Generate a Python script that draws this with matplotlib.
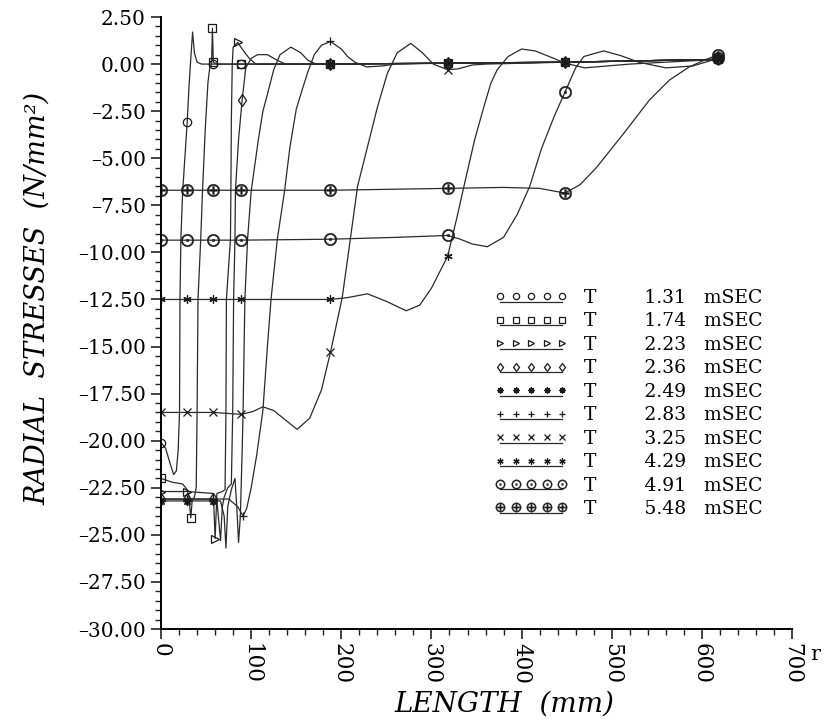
import matplotlib
matplotlib.use("Agg")
import matplotlib.pyplot as plt
import numpy as np
from matplotlib.ticker import MultipleLocator, FuncFormatter
from matplotlib.legend_handler import HandlerLine2DCompound

plt.rcParams['font.family'] = ['DejaVu Serif']

# radial stress profiles along the bar at different times (mSEC)
TIMES = ["1.31", "1.74", "2.23", "2.36", "2.49", "2.83", "3.25", "4.29", "4.91", "5.48"]

X_131 = [0, 5, 10, 14, 17, 19, 20.5, 21, 22, 24, 29, 31, 33, 35, 37, 40, 45, 58, 89, 188, 318, 448, 618]
Y_131 = [-20.1, -20.4, -21.2, -21.8, -21.6, -20.5, -18.5, -12.5, -9.3, -6.75, -3.1, -1.2, 0.3, 1.7, 0.6, 0.1, 0.0, 0.0, 0.0, 0.0, 0.05, 0.1, 0.25]
M_131 = [0, 29, 58, 89, 188, 318, 448, 618]

X_174 = [0, 12, 24, 29, 31, 33, 34.5, 37, 39, 40, 41, 44, 46, 49, 52, 54, 56, 57, 58, 62, 89, 188, 318, 448, 618]
Y_174 = [-22.0, -22.2, -22.3, -22.6, -23.0, -24.1, -23.2, -23.0, -22.5, -18.5, -12.5, -9.3, -6.75, -3.5, -1.0, -0.2, 0.0, 1.9, 0.1, 0.0, 0.0, 0.0, 0.05, 0.1, 0.25]
M_174 = [0, 33, 57, 58, 89, 188, 318, 448, 618]

X_223 = [0, 29, 58, 60, 62, 68, 71, 72, 72.5, 77, 77.5, 78, 79, 80, 85, 93, 98, 105, 188, 318, 448, 618]
Y_223 = [-22.7, -22.7, -22.8, -25.2, -22.8, -22.7, -22.6, -18.5, -12.5, -9.3, -6.75, -3.0, 0.0, 0.9, 1.15, 0.6, 0.3, 0.0, 0.0, 0.05, 0.1, 0.25]
M_223 = [0, 29, 60, 85, 188, 318, 448, 618]

X_236 = [0, 29, 58, 62, 66, 68, 70, 74, 78, 79.5, 80.5, 82, 82.5, 86, 90, 94, 100, 107, 118, 129, 138, 188, 318, 448, 618]
Y_236 = [-23.1, -23.1, -23.1, -23.2, -25.3, -23.5, -23.0, -22.5, -22.3, -18.5, -12.5, -9.3, -6.75, -4.0, -1.9, -0.2, 0.3, 0.5, 0.5, 0.2, 0.0, 0.0, 0.05, 0.1, 0.25]
M_236 = [0, 29, 58, 90, 188, 318, 448, 618]

X_249 = [0, 29, 58, 66, 70, 72, 74, 78, 82, 84, 86, 88, 90, 91, 93, 96, 100, 108, 113, 118, 125, 132, 144, 155, 163, 172, 188, 318, 448, 618]
Y_249 = [-23.2, -23.2, -23.2, -23.2, -24.0, -25.7, -23.5, -22.6, -22.0, -23.5, -25.4, -24.0, -20.5, -18.5, -12.5, -9.3, -6.75, -4.0, -2.5, -1.6, -0.3, 0.5, 0.9, 0.6, 0.2, 0.0, 0.0, 0.05, 0.1, 0.25]
M_249 = [0, 29, 58, 188, 318, 448, 618]

X_283 = [0, 29, 58, 75, 85, 91, 95, 100, 106, 113, 118, 122, 129, 137, 143, 150, 157, 163, 170, 178, 188, 200, 207, 215, 228, 245, 260, 318, 448, 618]
Y_283 = [-23.1, -23.1, -23.1, -23.1, -23.5, -24.0, -23.6, -22.5, -20.8, -18.4, -15.0, -12.5, -9.3, -6.75, -4.4, -2.4, -1.3, -0.4, 0.5, 1.0, 1.2, 0.8, 0.4, 0.1, -0.15, -0.1, 0.0, 0.05, 0.1, 0.25]
M_283 = [0, 29, 58, 91, 188, 318, 448, 618]

X_325 = [0, 29, 58, 89, 102, 113, 125, 138, 151, 165, 178, 188, 201, 210, 218, 229, 240, 251, 262, 277, 290, 302, 318, 330, 345, 360, 448, 618]
Y_325 = [-18.5, -18.5, -18.5, -18.6, -18.45, -18.2, -18.4, -18.9, -19.4, -18.8, -17.3, -15.3, -12.4, -9.3, -6.5, -4.4, -2.3, -0.5, 0.6, 1.1, 0.6, 0.0, -0.3, -0.25, -0.05, 0.0, 0.1, 0.25]
M_325 = [0, 29, 58, 89, 188, 318, 448, 618]

X_429 = [0, 29, 58, 89, 188, 207, 229, 250, 272, 287, 300, 318, 328, 336, 348, 358, 366, 373, 385, 400, 415, 436, 448, 470, 495, 520, 618]
Y_429 = [-12.5, -12.5, -12.5, -12.5, -12.5, -12.4, -12.2, -12.6, -13.1, -12.8, -11.9, -10.2, -8.2, -6.5, -4.0, -2.3, -1.0, -0.3, 0.4, 0.8, 0.7, 0.3, 0.05, -0.2, -0.1, 0.0, 0.25]
M_429 = [0, 29, 58, 89, 188, 318, 448, 618]

X_491 = [0, 29, 58, 89, 188, 262, 318, 332, 345, 362, 380, 395, 409, 422, 436, 448, 460, 469, 491, 510, 530, 560, 590, 618]
Y_491 = [-9.35, -9.35, -9.35, -9.35, -9.3, -9.2, -9.1, -9.3, -9.55, -9.7, -9.2, -8.0, -6.5, -4.5, -2.8, -1.5, -0.2, 0.4, 0.7, 0.45, 0.1, -0.2, -0.1, 0.3]
M_491 = [0, 29, 58, 89, 188, 318, 448, 618]

X_548 = [0, 29, 58, 89, 188, 318, 380, 420, 448, 465, 483, 513, 542, 564, 586, 600, 618]
Y_548 = [-6.7, -6.7, -6.7, -6.7, -6.7, -6.6, -6.55, -6.6, -6.85, -6.4, -5.5, -3.7, -1.9, -0.85, -0.15, 0.15, 0.5]
M_548 = [0, 29, 58, 89, 188, 318, 448, 618]

SERIES = [(X_131, Y_131, M_131), (X_174, Y_174, M_174), (X_223, Y_223, M_223),
          (X_236, Y_236, M_236), (X_249, Y_249, M_249), (X_283, Y_283, M_283),
          (X_325, Y_325, M_325), (X_429, Y_429, M_429), (X_491, Y_491, M_491),
          (X_548, Y_548, M_548)]
MARKERS = ['o', 's', '>', 'd', (8, 2, 0), '+', 'x', (6, 2, 0), r'$\odot$', r'$\oplus$']


class UnderlinedHandler(HandlerLine2DCompound):
    # draws the sample line a bit under the row of markers, like the plotter legend
    def create_artists(self, legend, orig_handle, xdescent, ydescent, width, height, fontsize, trans):
        line, marks = super().create_artists(legend, orig_handle, xdescent, ydescent,
                                             width, height, fontsize, trans)
        line.set_ydata(np.asarray(line.get_ydata()) - 0.42 * height)
        return [line, marks]


fig = plt.figure(figsize=(8.28, 7.27), dpi=100)
ax = fig.add_axes([0.1945, 0.1348, 0.762, 0.8418])

handles = []
for (xs, ys, marks), mk, t in zip(SERIES, MARKERS, TIMES):
    idx = [xs.index(m) for m in marks]
    text_marker = isinstance(mk, str) and mk.startswith('$')
    h, = ax.plot(xs, ys, color='#2a2a2a', lw=0.9, marker=mk, markevery=idx,
                 markersize=9 if text_marker else 6,
                 markerfacecolor='#1a1a1a' if text_marker else 'none',
                 markeredgecolor='#1a1a1a', markeredgewidth=0.3 if text_marker else 0.9,
                 label="T" + " " * 8 + t + " " * 3 + "mSEC")
    handles.append(h)

ax.set_xlim(0, 700)
ax.set_ylim(-30, 2.5)
ax.spines['top'].set_visible(False)
ax.spines['right'].set_visible(False)
ax.spines['left'].set_linewidth(1.4)
ax.spines['bottom'].set_linewidth(1.4)

ax.xaxis.set_major_locator(MultipleLocator(100))
ax.xaxis.set_minor_locator(MultipleLocator(20))
ax.yaxis.set_major_locator(MultipleLocator(2.5))
ax.yaxis.set_minor_locator(MultipleLocator(0.5))
ax.yaxis.set_major_formatter(FuncFormatter(lambda v, _: f"{v:.2f}".replace("-", "\u2013")))
ax.tick_params(axis='both', which='major', direction='out', length=7, width=1.2, color='#222')
ax.tick_params(axis='both', which='minor', direction='out', length=4, width=1.0, color='#222')
ax.tick_params(axis='y', which='major', labelsize=14.5, pad=4)
ax.tick_params(axis='x', which='major', labelsize=15.5, pad=3, labelrotation=270)
for lab in ax.get_xticklabels():
    lab.set_va('top')

ax.set_xlabel("LENGTH  (mm)", fontsize=20, style='italic')
ax.xaxis.set_label_coords(0.545, -0.10)
ax.set_ylabel("RADIAL  STRESSES  (N/mm\u00b2)", fontsize=19.5, style='italic')
ax.yaxis.set_label_coords(-0.175, 0.54)

leg = ax.legend(handles=handles, loc='upper left', bbox_to_anchor=(0.529, 0.5555),
                frameon=False, numpoints=5, handlelength=3.9, handletextpad=0.85,
                labelspacing=0.29, borderpad=0, borderaxespad=0, markerscale=0.75,
                prop={'family': 'DejaVu Serif', 'size': 13.5},
                handler_map={h: UnderlinedHandler() for h in handles})

fig.text(815 / 828, 1 - 655 / 727, "r", fontsize=15, ha='center', va='center')

fig.savefig("out.png", dpi=100)
